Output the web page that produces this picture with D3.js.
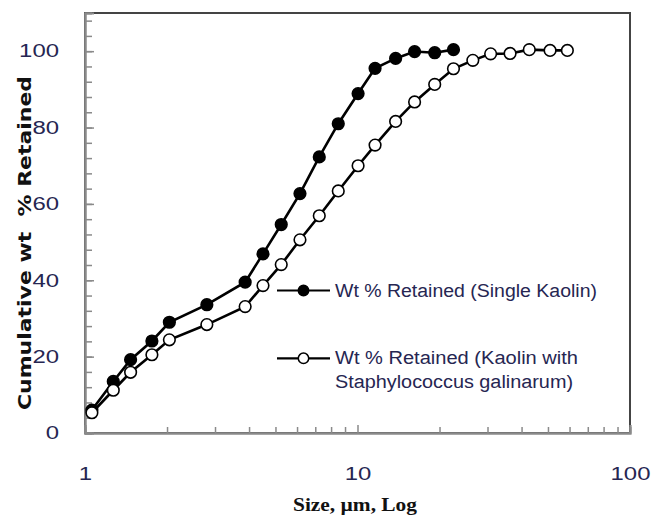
<!DOCTYPE html>
<html>
<head>
<meta charset="utf-8">
<script src="https://cdn.jsdelivr.net/npm/d3@7"></script>
<style>
    html, body { margin: 0; padding: 0; background: #fff; }
    svg { display: block; }
    text { white-space: pre; }
</style>
</head>
<body>
<div id="chart"></div>
<script>
// particle size (um)
var sizes = [1.06, 1.27, 1.47, 1.76, 2.04, 2.8, 3.87, 4.5, 5.25, 6.15, 7.24, 8.5,
    10.05, 11.6, 13.8, 16.2, 19.2, 22.5, 26.5, 30.8, 36.3, 42.7, 50.9, 58.9];

// cumulative wt % retained
var singleKaolin = [6.0, 13.5, 19.2, 24.1, 29.0, 33.6, 39.5, 46.9, 54.6, 62.7, 72.3, 81.0,
    88.9, 95.5, 98.1, 99.9, 99.6, 100.4];
var kaolinStaph = [5.3, 11.2, 15.9, 20.5, 24.4, 28.4, 33.1, 38.6, 44.1, 50.6, 56.9, 63.4,
    70.0, 75.4, 81.6, 86.7, 91.3, 95.4, 97.6, 99.3, 99.4, 100.4, 100.2, 100.2];

var xTicks = [1, 10, 100];
var xMinor = [2, 3, 4, 5, 6, 7, 8, 9, 20, 30, 40, 50, 60, 70, 80, 90];
var yTicks = [0, 20, 40, 60, 80, 100];
var yMinor = d3.range(0, 112, 4);

var legendLabels = [
    ['Wt % Retained (Single Kaolin)'],
    ['Wt % Retained (Kaolin with', 'Staphylococcus galinarum)']
];

var W = 653, H = 515;
var plotL = 85, plotR = 630, plotT = 13, plotB = 433;
var labelColor = '#262652';

var svg = d3.select('#chart').append('svg')
    .attr('width', W)
    .attr('height', H);

var x = d3.scaleLog().domain([1, 100]).range([plotL, plotR]);
var y = d3.scaleLinear().domain([0, 110]).range([plotB, plotT]);

// plot frame
svg.append('rect')
    .attr('x', plotL).attr('y', plotT)
    .attr('width', plotR - plotL).attr('height', plotB - plotT)
    .attr('fill', 'none')
    .attr('stroke', '#444')
    .attr('stroke-width', 2);

// y axis: ticks point inward
svg.append('g')
    .attr('transform', `translate(${plotL},0)`)
    .call(d3.axisLeft(y).tickValues(yMinor).tickSize(-7).tickFormat(''));
svg.append('g')
    .attr('transform', `translate(${plotL},0)`)
    .call(d3.axisLeft(y).tickValues(yTicks).tickSize(-9).tickPadding(26));

// x axis
svg.append('g')
    .attr('transform', `translate(0,${plotB})`)
    .call(d3.axisBottom(x).tickValues(xMinor).tickSize(-6).tickFormat(''));
svg.append('g')
    .attr('transform', `translate(0,${plotB})`)
    .call(d3.axisBottom(x).tickValues(xTicks).tickSize(-8).tickPadding(34).tickFormat(d3.format('d')));

svg.selectAll('.domain')
    .attr('stroke', '#8a8a8a')
    .attr('stroke-width', 2);
svg.selectAll('.tick line')
    .attr('stroke', '#8a8a8a')
    .attr('stroke-width', 1.5);
svg.selectAll('.tick text')
    .attr('font-family', '"Liberation Sans", Arial, sans-serif')
    .attr('font-size', 18)
    .attr('fill', labelColor)
    .attr('textLength', function () { return this.textContent.length * 13.3; })
    .attr('lengthAdjust', 'spacingAndGlyphs');

// axis titles
svg.append('text')
    .attr('transform', 'translate(31,243) rotate(-90)')
    .attr('text-anchor', 'middle')
    .attr('font-family', '"DejaVu Sans", Verdana, sans-serif')
    .attr('font-weight', 'bold')
    .attr('font-size', 18)
    .attr('fill', '#111')
    .attr('textLength', 334)
    .attr('lengthAdjust', 'spacingAndGlyphs')
    .text('Cumulative wt  % Retained');

svg.append('text')
    .attr('x', 355).attr('y', 511)
    .attr('text-anchor', 'middle')
    .attr('font-family', '"Liberation Serif", "DejaVu Serif", serif')
    .attr('font-weight', 'bold')
    .attr('font-size', 19)
    .attr('fill', '#111')
    .attr('textLength', 124)
    .attr('lengthAdjust', 'spacingAndGlyphs')
    .text('Size, \u00b5m, Log');

// series
var series = [
    { name: 'single', values: singleKaolin, fill: '#000' },
    { name: 'staph', values: kaolinStaph, fill: '#fff' }
];

var line = d3.line()
    .x(function (d) { return x(d.size); })
    .y(function (d) { return y(d.value); });

series.forEach(function (s) {
    var pts = s.values.map(function (v, i) { return { size: sizes[i], value: v }; });
    var g = svg.append('g').attr('class', 'series-' + s.name);
    g.append('path')
        .datum(pts)
        .attr('d', line)
        .attr('fill', 'none')
        .attr('stroke', '#000')
        .attr('stroke-width', 2.6);
    g.selectAll('circle')
        .data(pts)
        .enter()
        .append('circle')
        .attr('cx', function (d) { return x(d.size); })
        .attr('cy', function (d) { return y(d.value); })
        .attr('r', 5.8)
        .attr('fill', s.fill)
        .attr('stroke', '#000')
        .attr('stroke-width', 1.6);
});

// legend
var legendY = [290.5, 358.3];
var legend = svg.selectAll('g.legend')
    .data(series)
    .enter()
    .append('g')
    .attr('class', 'legend')
    .attr('transform', function (d, i) { return `translate(0,${legendY[i]})`; });

legend.append('line')
    .attr('x1', 277).attr('x2', 330)
    .attr('stroke', '#000')
    .attr('stroke-width', 2.2);
legend.append('circle')
    .attr('cx', 303.5)
    .attr('r', 5.2)
    .attr('fill', function (d) { return d.fill; })
    .attr('stroke', '#000')
    .attr('stroke-width', 1.5);

var legendWidths = [[262], [243, 238]];
legend.each(function (d, i) {
    var g = d3.select(this);
    legendLabels[i].forEach(function (txt, j) {
        g.append('text')
            .attr('x', 335)
            .attr('y', 6 + j * 23.5)
            .attr('font-family', '"Liberation Sans", Arial, sans-serif')
            .attr('font-size', 18)
            .attr('fill', labelColor)
            .attr('textLength', legendWidths[i][j])
            .attr('lengthAdjust', 'spacingAndGlyphs')
            .text(txt);
    });
});
</script>
</body>
</html>
